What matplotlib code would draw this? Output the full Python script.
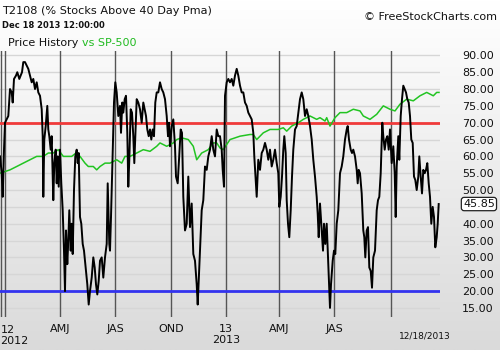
import numpy as np
import matplotlib
matplotlib.use("Agg")
import matplotlib.pyplot as plt
from matplotlib import transforms
from matplotlib.colors import LinearSegmentedColormap

# ---------------- data ----------------
# time position (bar index along the chart) and T2108 value
t2108_x = [0, 1.7, 2.7, 4, 5, 6.7, 8.3, 10, 11.7, 12.7, 14, 16, 17.3, 19.3, 20.7, 22, 23.3, 25, 26.7, 28.3,
           30, 31.7, 33.3, 35, 36.7, 38.3, 40, 41.7, 42.7, 43.3, 44.3, 45.7, 47.3, 48.3, 49.3, 50.7, 51.7,
           53.3, 54.3, 55.7, 56.7, 57.7, 58.7, 60, 61.3, 62.7, 64, 65, 66, 67.3, 68.3, 69.3, 70.7, 71.7,
           72.7, 74, 75.3, 76.7, 77.7, 78.7, 80, 81.3, 82.7, 84, 86, 87.3, 88.7, 90, 91.7, 93.3, 94.7, 96,
           97.3, 98.7, 100, 101.7, 103.3, 105, 106.7, 107.7, 109.3,
           110, 111, 112.7, 114, 115.3, 116.7, 118.3, 120, 121, 122.3, 123.3, 124.7, 126, 127.3, 128.3,
           129.3, 130.7, 132, 133.3, 134.3, 135.3, 136.7, 138.3, 140, 141.7, 143.3, 144.7, 146, 147.3,
           148.7, 150, 151.3, 152.7, 154, 155.3, 156.7, 158.3, 160, 161.7, 163.3, 165, 166.7, 168, 169,
           170, 171.7, 173.3, 175, 176, 177.7, 179, 180.7, 182, 183.3, 185, 186.7, 188.3, 190, 191.7,
           193.3, 195, 196.7, 197.7, 198.7, 200, 201.7, 203.3, 205, 206.7, 208.3, 210, 211.7, 213.3, 215,
           216.7, 218.3,
           220, 221.7, 222.7, 224, 225, 226.7, 228.3, 230, 231.7, 233.3, 235, 236.7, 238.3, 240, 241.7,
           243.3, 245, 246.7, 248.3, 250, 251.7, 253.3, 254.3, 255.3, 256.7, 258.3, 260, 261.7, 263.3,
           265, 266.7, 268.3, 270, 271.7, 273.3, 275, 276.7, 278.3, 279.3, 280.7, 282, 283.3, 284.3,
           285.7, 286.7, 288, 289.3, 290.7, 292, 293.3, 295, 296.7, 298.3, 300, 301.7, 303.3, 305, 306.7,
           308.3, 310, 311.7, 313.3, 315, 316.7, 317.7, 318.7, 320, 321.7, 323, 324, 325.3, 326.7, 328.3,
           329.3,
           330, 331, 332.7, 334, 335.3, 336.7, 338.3, 340, 341.7, 343.3, 345, 346.7, 347.7, 349, 350.7,
           352, 353.3, 355, 356.7, 357.7, 358.7, 360, 361.7, 363.3, 364.3, 365.3, 366.7, 368, 369.3,
           370.7, 372, 373.3, 375, 376.7, 378, 379.3, 380.7, 382.3, 383.3, 384.7, 386, 387.3, 388.7, 390,
           391.7, 393.3, 394.7, 395.7, 396.7, 398.3, 399.3, 400.7, 402, 403.3, 404.7, 406, 407.3, 408.7,
           410, 411.3, 412.7, 414, 415.3, 416.7, 418.3, 419.3, 420.7, 422, 423.3, 424.7, 426, 427.3,
           428.7, 430, 431.3, 432.7, 434, 435.3, 436.7, 437.7, 438.7]
t2108_y = [60, 55, 48, 62, 70, 71, 72, 80, 79, 76, 83, 84, 85, 83, 84, 85, 88, 88, 87, 86,
           84, 82, 83, 80, 82, 79, 78, 74, 66, 48, 65, 69, 75, 68, 66, 62, 66,
           47, 58, 62, 52, 60, 51, 62, 52, 44, 32, 20, 38, 28, 35, 44, 32, 40,
           31, 50, 60, 62, 58, 61, 42, 40, 34, 32, 26, 22, 16, 20, 24, 30, 27, 22,
           19, 23, 29, 30, 24, 30, 34, 52, 34,
           32, 42, 62, 76, 82, 79, 72, 75, 67, 76, 73, 77, 78, 67, 51,
           59, 74, 73, 66, 58, 66, 77, 76, 74, 70, 76, 74, 72, 68,
           66, 68, 65, 68, 66, 76, 79, 79, 82, 80, 79, 77, 72, 66, 70,
           63, 69, 71, 63, 54, 52, 59, 68, 67, 48, 38, 40, 54, 39, 46,
           31, 29, 22, 16, 23, 32, 44, 47, 57, 56, 60, 62, 66, 62, 60,
           68, 66,
           66, 62, 56, 51, 78, 82, 83, 82, 83, 81, 84, 86, 84, 81, 79,
           79, 76, 75, 73, 72, 71, 67, 60, 55, 48, 59, 56, 61, 62,
           64, 62, 59, 62, 57, 59, 62, 58, 55, 45, 48, 54, 62, 66,
           61, 47, 40, 36, 44, 54, 62, 68, 69, 73, 77, 79, 77, 72, 74,
           72, 69, 65, 59, 54, 48, 43, 36, 46, 38, 32, 40, 34, 40, 28,
           20,
           15, 22, 29, 32, 31, 40, 44, 55, 57, 60, 65, 68, 69, 65, 62,
           61, 62, 60, 56, 52, 56, 55, 49, 38, 36, 30, 38, 39, 27,
           26, 21, 30, 32, 44, 47, 48, 55, 70, 66, 62, 65, 66, 62, 68,
           58, 63, 55, 42, 57, 66, 59, 72, 77, 81, 80, 79, 77, 76,
           72, 65, 64, 54, 53, 50, 54, 60, 54, 49, 56, 55, 56, 58,
           52, 48, 40, 45, 42, 33, 36, 40, 45.85]

# SP-500 overlay (scaled onto the same axis)
spx_x = [0, 10, 16.7, 23.3, 30, 36.7, 43.3, 48.3, 53.3, 58.3, 63.3, 66.7, 71.7, 76, 80, 85, 88.3, 93.3,
         96.7, 100, 105, 110, 116.7, 121.7, 125, 130, 136.7, 143.3, 150, 156.7, 160, 166.7, 173.3,
         176.7, 181.7, 188.3, 193.3, 196.7, 201.7, 208.3, 213.3, 216.7, 220, 223.3, 230, 240, 250,
         253.3, 256.7, 263.3, 270, 278.3, 283.3, 286.7, 291.7, 298.3, 303.3, 310, 316.7, 320, 325,
         326.7, 330, 335, 340, 346.7, 353.3, 360, 363.3, 370, 376.7, 383.3, 390, 395, 400, 406.7,
         413.3, 420, 426.7, 433.3, 436.7, 439]
spx_y = [55, 56, 57, 58, 59, 60, 60, 61, 61, 62, 60, 60, 60, 61, 60, 58, 57, 57,
         56, 57, 58, 58, 59, 58, 60, 60, 61, 62, 61.5, 63, 64, 63, 64,
         65, 65.5, 65, 63, 59, 61, 62, 64, 64, 62.5, 62, 65, 66, 66.5,
         66.5, 65, 67, 68, 68, 68.5, 67.5, 69, 70, 71, 72, 71, 71.5, 70.5,
         71.5, 69, 71.5, 73, 73, 74, 73.5, 72, 71, 72.5, 75, 74, 73.5, 75.5, 77,
         76.5, 78, 79, 78, 79, 79]

quarter_lines = [1, 5.3, 60.3, 115.3, 171.3, 225.7, 278.7, 334.3, 391.3]
first_label_pos = 0
first_label = "12\n2012"
quarter_label_pos = [60.3, 115.3, 171.3, 225.7, 278.7, 334.3]
quarter_labels = ["AMJ", "JAS", "OND", "13\n2013", "AMJ", "JAS"]
grid_levels = [15, 20, 25, 30, 35, 40, 45, 50, 55, 60, 65, 70, 75, 80, 85, 90]
y_ticks = [15, 20, 25, 30, 35, 40, 50, 55, 60, 65, 70, 75, 80, 85, 90]
upper_level = 70
lower_level = 20
last_value = 45.85
last_date = "12/18/2013"

# ---------------- figure ----------------
W, H = 500, 350
fig = plt.figure(figsize=(W / 100, H / 100), dpi=100)

# background gradient
bg = fig.add_axes([0, 0, 1, 1], zorder=0)
grad = np.linspace(0, 1, 256).reshape(-1, 1)
cmap = LinearSegmentedColormap.from_list("bg", ["#ffffff", "#dadada"])
bg.imshow(grad, aspect="auto", cmap=cmap, extent=[0, 1, 0, 1], origin="upper")
bg.set_axis_off()

x_left, x_right = 0, 440
y_top, y_bot = 51, 317
ax = fig.add_axes([x_left / W, 1 - y_bot / H, (x_right - x_left) / W, (y_bot - y_top) / H], zorder=1)
ax.patch.set_alpha(0)
for s in ax.spines.values():
    s.set_visible(False)

ax.set_xlim(0, 440)
ax.set_ylim(12.3, 91.3)

for yv in grid_levels:
    ax.axhline(yv, color="#d6d6d6", lw=1.0, zorder=1)
for xv in quarter_lines:
    ax.axvline(xv, color="#555555", lw=1.0, zorder=2)

ax.axhline(upper_level, color="#f03a3a", lw=2.0, zorder=3)
ax.axhline(lower_level, color="#3333ee", lw=2.0, zorder=3)

ax.plot(spx_x, spx_y, color="#22c422", lw=1.1, zorder=4)
ax.plot(t2108_x, t2108_y, color="#000000", lw=1.4, zorder=5)

ax.set_yticks(y_ticks)
ax.set_yticklabels([f"{v:.2f}" for v in y_ticks])
ax.yaxis.tick_right()
ax.tick_params(axis="y", length=0, pad=16, labelsize=8, labelcolor="#111111")

ax.set_xticks(quarter_label_pos)
ax.set_xticklabels(quarter_labels)
ax.tick_params(axis="x", length=0, pad=5, labelsize=8, labelcolor="#111111")
for lab in ax.get_xticklabels():
    lab.set_linespacing(1.15)

# first (partly hidden) period label, left aligned at the chart edge
trx = transforms.blended_transform_factory(ax.transData, fig.transFigure)
fig.text(0.5 / W, 1 - 325 / H, first_label, fontsize=8, ha="left", va="top",
         color="#111111", linespacing=1.15)

# current value box
tr = transforms.blended_transform_factory(ax.transAxes, ax.transData)
ax.text(463 / 440, last_value, f"{last_value:.2f}", transform=tr, ha="left", va="center",
        fontsize=8, color="#111111",
        bbox=dict(boxstyle="round,pad=0.15,rounding_size=0.25", fc="white", ec="#222222", lw=0.9))

# texts
fig.text(2 / W, 1 - 11 / H, "T2108 (% Stocks Above 40 Day Pma)", fontsize=8.1, ha="left", va="center",
         color="#111111")
fig.text(2 / W, 1 - 25 / H, "Dec 18 2013 12:00:00", fontsize=6.0, ha="left", va="center",
         color="#111111", fontweight="bold")
t1 = fig.text(8 / W, 1 - 43 / H, "Price History ", fontsize=8.0, ha="left", va="center", color="#111111")
fig.canvas.draw()
bb = t1.get_window_extent()
fig.text(bb.x1 / W, 1 - 43 / H, "vs SP-500", fontsize=8.0, ha="left", va="center", color="#22bb22")
fig.text(497 / W, 1 - 17 / H, "\u00a9 FreeStockCharts.com", fontsize=8.0, ha="right", va="center",
         color="#111111")
fig.text(425 / W, 1 - 336 / H, last_date, fontsize=6.5, ha="center", va="center", color="#111111")

fig.savefig("out.png", dpi=100)
